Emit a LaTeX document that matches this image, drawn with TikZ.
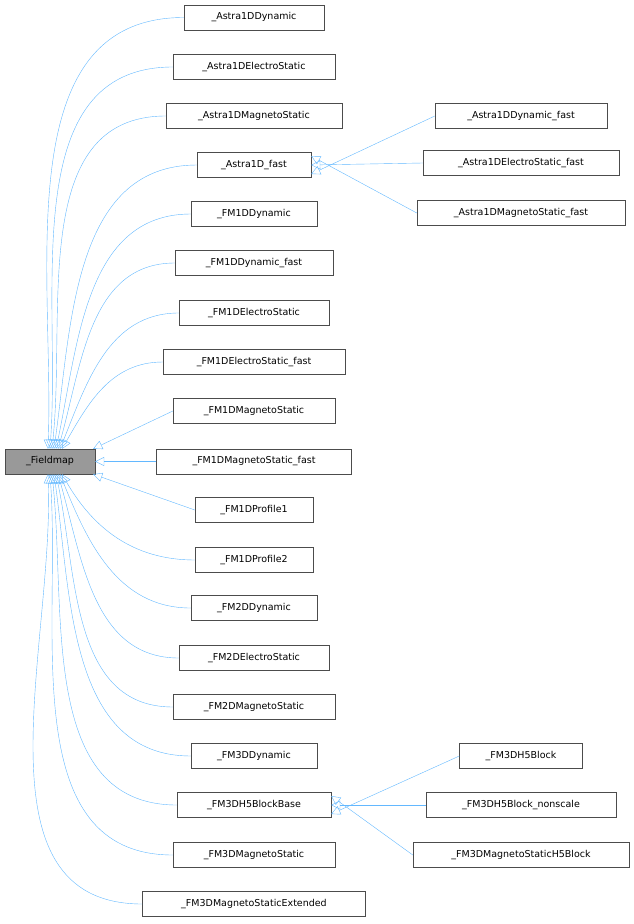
\documentclass[tikz,border=0pt]{standalone}
\usepackage{fontspec}
\setmainfont{DejaVu Sans}
\usetikzlibrary{arrows.meta}
\definecolor{edgeblue}{HTML}{63B8FF}
\definecolor{basegray}{HTML}{999999}
\begin{document}
\begin{tikzpicture}[
    x=1pt, y=-1pt,
    every node/.style={draw=black!70, fill=white, minimum height=25pt, inner sep=0pt, font=\fontsize{9.5}{11}\selectfont},
    base node/.style={fill=basegray},
    derived/.style={draw=edgeblue, thin, -{Triangle[open,length=9pt,width=9pt]}},
    ]
\useasboundingbox (0,0) rectangle (633,924);
\node[base node, minimum width=90pt] (Fieldmap) at (50,461.5) {\_Fieldmap};
\node[minimum width=140pt] (Astra1DDynamic) at (254,17.5) {\_Astra1DDynamic};
\node[minimum width=162pt] (Astra1DElectroStatic) at (254,67) {\_Astra1DElectroStatic};
\node[minimum width=176pt] (Astra1DMagnetoStatic) at (254,116) {\_Astra1DMagnetoStatic};
\node[minimum width=114pt] (Astra1Dfast) at (254,165) {\_Astra1D\_fast};
\node[minimum width=126pt] (FM1DDynamic) at (254,214) {\_FM1DDynamic};
\node[minimum width=158pt] (FM1DDynamicfast) at (254,263) {\_FM1DDynamic\_fast};
\node[minimum width=150pt] (FM1DElectroStatic) at (254,313) {\_FM1DElectroStatic};
\node[minimum width=182pt] (FM1DElectroStaticfast) at (254,362) {\_FM1DElectroStatic\_fast};
\node[minimum width=162pt] (FM1DMagnetoStatic) at (254,411) {\_FM1DMagnetoStatic};
\node[minimum width=195pt] (FM1DMagnetoStaticfast) at (254,461.5) {\_FM1DMagnetoStatic\_fast};
\node[minimum width=118pt] (FM1DProfile1) at (254,510) {\_FM1DProfile1};
\node[minimum width=118pt] (FM1DProfile2) at (254,560) {\_FM1DProfile2};
\node[minimum width=126pt] (FM2DDynamic) at (254,608) {\_FM2DDynamic};
\node[minimum width=150pt] (FM2DElectroStatic) at (254,658) {\_FM2DElectroStatic};
\node[minimum width=162pt] (FM2DMagnetoStatic) at (254,707) {\_FM2DMagnetoStatic};
\node[minimum width=126pt] (FM3DDynamic) at (254,756) {\_FM3DDynamic};
\node[minimum width=154pt] (FM3DH5BlockBase) at (254,805) {\_FM3DH5BlockBase};
\node[minimum width=162pt] (FM3DMagnetoStatic) at (254,855) {\_FM3DMagnetoStatic};
\node[minimum width=223pt] (FM3DMagnetoStaticExtended) at (254,904) {\_FM3DMagnetoStaticExtended};
\node[minimum width=172pt] (Astra1DDynamicfast) at (521,116) {\_Astra1DDynamic\_fast};
\node[minimum width=196pt] (Astra1DElectroStaticfast) at (521,163) {\_Astra1DElectroStatic\_fast};
\node[minimum width=208pt] (Astra1DMagnetoStaticfast) at (521,213) {\_Astra1DMagnetoStatic\_fast};
\node[minimum width=123pt] (FM3DH5Block) at (521,756) {\_FM3DH5Block};
\node[minimum width=190pt] (FM3DH5Blocknonscale) at (521,805) {\_FM3DH5Block\_nonscale};
\node[minimum width=216pt] (FM3DMagnetoStaticH5Block) at (521,855) {\_FM3DMagnetoStaticH5Block};
% upper group
\draw[derived] (Astra1DDynamic.west) to[out=180,in=88] ([xshift=-2pt]Fieldmap.north);
\draw[derived] (Astra1DElectroStatic.west) to[out=180,in=86] ([xshift=0pt]Fieldmap.north);
\draw[derived] (Astra1DMagnetoStatic.west) to[out=180,in=84] ([xshift=2pt]Fieldmap.north);
\draw[derived] (Astra1Dfast.west) to[out=180,in=82] ([xshift=4pt]Fieldmap.north);
\draw[derived] (FM1DDynamic.west) to[out=180,in=78] ([xshift=6pt]Fieldmap.north);
\draw[derived] (FM1DDynamicfast.west) to[out=180,in=74] ([xshift=8pt]Fieldmap.north);
\draw[derived] (FM1DElectroStatic.west) to[out=180,in=68] ([xshift=10pt]Fieldmap.north);
\draw[derived] (FM1DElectroStaticfast.west) to[out=180,in=60] ([xshift=12pt]Fieldmap.north);
\draw[derived] (FM1DMagnetoStatic.west) -- ([xshift=-2pt]Fieldmap.north east);
\draw[derived] (FM1DMagnetoStaticfast.west) -- (Fieldmap.east);
\draw[derived] (FM1DProfile1.west) -- ([xshift=-2pt]Fieldmap.south east);
% lower group
\draw[derived] (FM1DProfile2.west) to[out=180,in=-60] ([xshift=12pt]Fieldmap.south);
\draw[derived] (FM2DDynamic.west) to[out=180,in=-68] ([xshift=10pt]Fieldmap.south);
\draw[derived] (FM2DElectroStatic.west) to[out=180,in=-74] ([xshift=8pt]Fieldmap.south);
\draw[derived] (FM2DMagnetoStatic.west) to[out=180,in=-78] ([xshift=6pt]Fieldmap.south);
\draw[derived] (FM3DDynamic.west) to[out=180,in=-82] ([xshift=4pt]Fieldmap.south);
\draw[derived] (FM3DH5BlockBase.west) to[out=180,in=-84] ([xshift=2pt]Fieldmap.south);
\draw[derived] (FM3DMagnetoStatic.west) to[out=180,in=-86] ([xshift=0pt]Fieldmap.south);
\draw[derived] (FM3DMagnetoStaticExtended.west) to[out=180,in=-88] ([xshift=-2pt]Fieldmap.south);
% right column
\draw[derived] (Astra1DDynamicfast.west) -- ([yshift=-9pt]Astra1Dfast.east);
\draw[derived] (Astra1DElectroStaticfast.west) -- (Astra1Dfast.east);
\draw[derived] (Astra1DMagnetoStaticfast.west) -- ([yshift=9pt]Astra1Dfast.east);
\draw[derived] (FM3DH5Block.west) -- ([yshift=-9pt]FM3DH5BlockBase.east);
\draw[derived] (FM3DH5Blocknonscale.west) -- (FM3DH5BlockBase.east);
\draw[derived] (FM3DMagnetoStaticH5Block.west) -- ([yshift=9pt]FM3DH5BlockBase.east);
\end{tikzpicture}
\end{document}
